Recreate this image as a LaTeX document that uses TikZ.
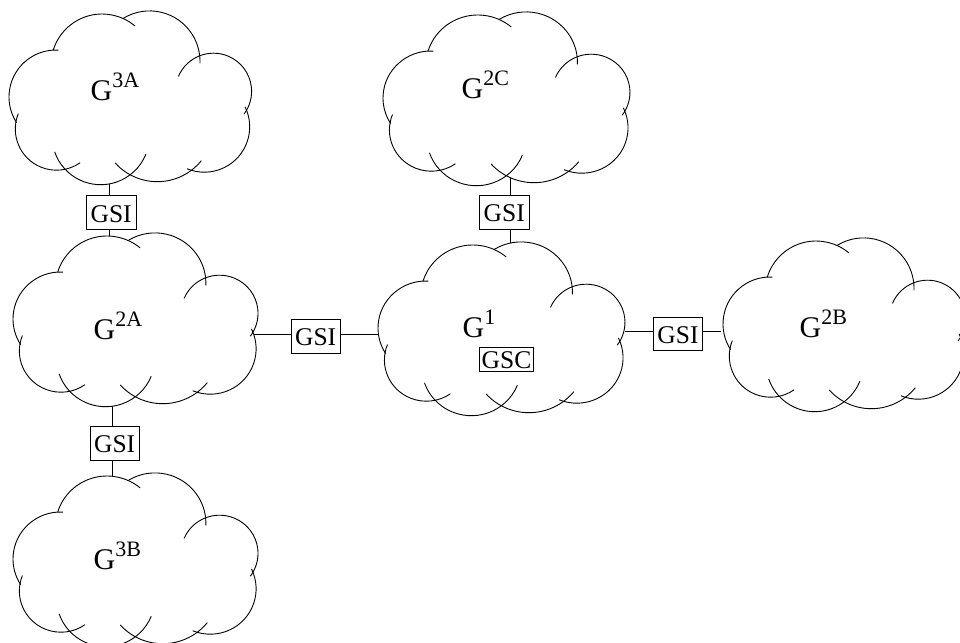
\documentclass[tikz,border=0pt]{standalone}
\usepackage{fontspec}
\setmainfont{Liberation Serif}

% superscript part of a cloud label
\newcommand\gsup[1]{\raisebox{12.5pt}{\fontsize{22}{22}\selectfont #1}}

\tikzset{
  cloudline/.style={line width=0.9pt},
  conn/.style={line width=0.9pt},
  gsi/.style={draw, line width=0.9pt, inner sep=0pt,
    minimum width=49.5pt, minimum height=33.5pt,
    font=\fontsize{25.5}{25.5}\selectfont, text height=19pt, text depth=0pt},
  gsc/.style={draw, line width=0.9pt, inner sep=0pt,
    minimum width=54.5pt, minimum height=24pt,
    font=\fontsize{25.5}{25.5}\selectfont, text height=17.5pt, text depth=0pt},
  lbl/.style={anchor=base west, inner sep=0pt, font=\fontsize{30}{30}\selectfont},
  % cloud made of overlapping circular lobes; origin = top-left corner,
  % argument = horizontal stretch
  cloudpic/.pic={
    \begin{scope}[xscale=#1]
      \draw[cloudline] (47,86)      ++(-87:47)     arc[start angle=-87,   end angle=-213, radius=47];
      \draw[cloudline] (93.1,54.1)  ++(-163:51.1)  arc[start angle=-163,  end angle=-50,  radius=51.1];
      \draw[cloudline] (140.6,50.3) ++(-121.5:50.4) arc[start angle=-121.5, end angle=2.3, radius=50.4];
      \draw[cloudline] (204.5,80.3) ++(-157:38.1)  arc[start angle=-157,  end angle=37,   radius=38.1];
      \draw[cloudline] (195.3,115.8) ++(-26:45.4)  arc[start angle=-26,   end angle=112.5, radius=45.4];
      \draw[cloudline] (148.3,114)  ++(138:56.7)   arc[start angle=138,   end angle=39,   radius=56.7];
      \draw[cloudline] (91.7,125)   ++(161:48.7)   arc[start angle=161,   end angle=22,   radius=48.7];
      \draw[cloudline] (47.5,118)   ++(202:41.2)   arc[start angle=202,   end angle=55,   radius=41.2];
    \end{scope}
  }
}

\begin{document}
\begin{tikzpicture}[x=1pt, y=-1pt]
  \useasboundingbox (0,0) rectangle (960,642);
  \clip (0,0) rectangle (960,642);

  % clouds
  \pic at (9,11)    {cloudpic=1};      % G3A
  \pic at (13,233)  {cloudpic=1.01};   % G2A
  \pic at (13,473)  {cloudpic=1.01};   % G3B
  \pic at (378,242) {cloudpic=1.018};  % G1
  \pic at (383,12)  {cloudpic=1.018};  % G2C
  \pic at (723,238) {cloudpic=1};      % G2B

  % cloud labels
  \node[lbl] (t3a) at (90.5,100) {G\gsup{3A}};
  \node[lbl] (t2a) at (93.5,339) {G\gsup{2A}};
  \node[lbl] (t3b) at (93.5,569) {G\gsup{3B}};
  \node[lbl] (t1)  at (462.5,337) {G\gsup{1}};
  \node[lbl] (t2c) at (461.5,98) {G\gsup{2C}};
  \node[lbl] (t2b) at (799.5,337) {G\gsup{2B}};

  % gateway boxes
  \node[gsi] (s1) at (111.2,212.5) {GSI};
  \node[gsi] (s2) at (114.7,443.4) {GSI};
  \node[gsi] (s3) at (315.7,336.3) {GSI};
  \node[gsi] (s4) at (504.2,212.4) {GSI};
  \node[gsi] (s5) at (678,333.8)   {GSI};
  \node[gsc] (sc) at (506.5,359.3) {GSC};

  % contact points on the cloud outlines
  \coordinate (c3as) at (109.3,184);
  \coordinate (c2an) at (109.3,236);
  \coordinate (c2as) at (112.7,406.2);
  \coordinate (c3bn) at (112.7,476.3);
  \coordinate (c2ae) at (254,334.3);
  \coordinate (c1w)  at (378.5,334.3);
  \coordinate (c2cs) at (510,177.6);
  \coordinate (c1n)  at (510,243.1);
  \coordinate (c1e)  at (625,331.7);
  \coordinate (c2bw) at (721,331.7);

  % links
  \draw[conn] (c3as) -- (c3as |- s1.north);
  \draw[conn] (c2an |- s1.south) -- (c2an);
  \draw[conn] (c2as) -- (c2as |- s2.north);
  \draw[conn] (c3bn |- s2.south) -- (c3bn);
  \draw[conn] (c2ae) -- (c2ae -| s3.west);
  \draw[conn] (c1w -| s3.east) -- (c1w);
  \draw[conn] (c2cs) -- (c2cs |- s4.north);
  \draw[conn] (c1n |- s4.south) -- (c1n);
  \draw[conn] (c1e) -- (c1e -| s5.west);
  \draw[conn] (c2bw -| s5.east) -- (c2bw);
\end{tikzpicture}
\end{document}
